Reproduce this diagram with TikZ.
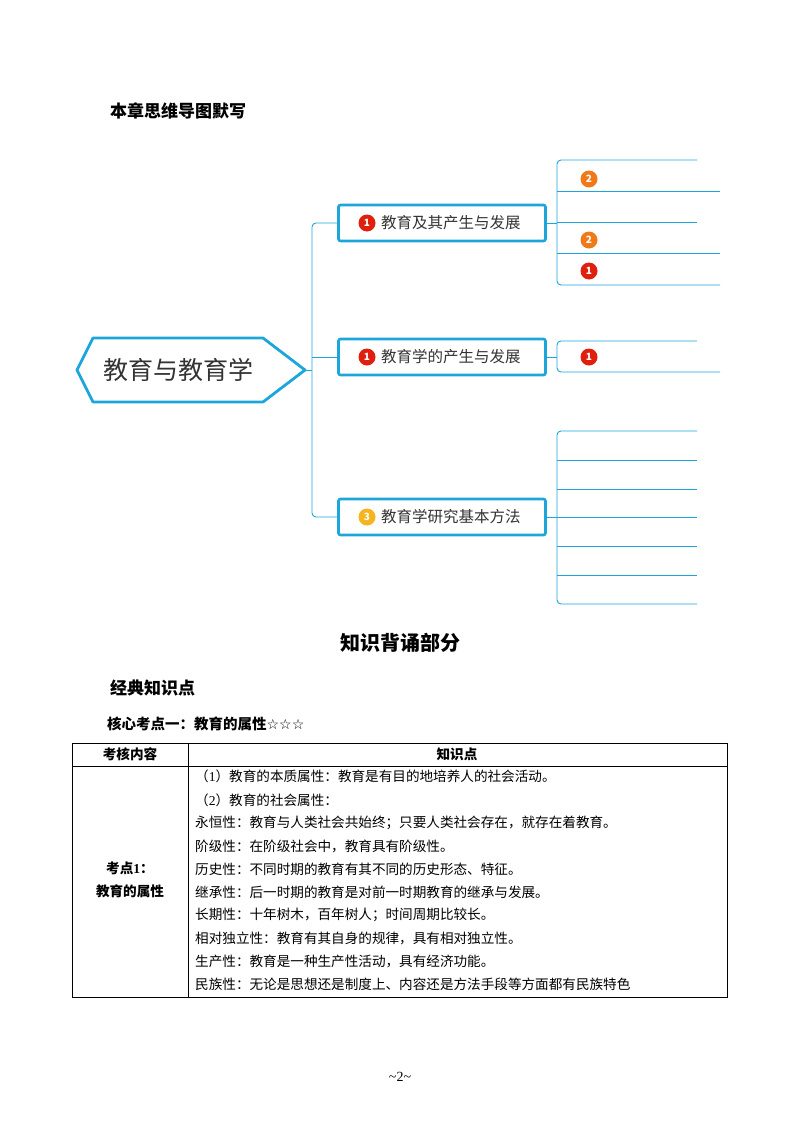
\documentclass[tikz,border=0pt]{standalone}
\usepackage{fontspec}
\setmainfont{Noto Sans CJK SC}
\newfontfamily\tms{Liberation Serif}
\newfontfamily\djv{DejaVu Sans}
\begin{document}
\begin{tikzpicture}[x=1pt,y=-1pt,
  mb/.style={draw=mblue,line width=2.6pt,rounded corners=2pt,minimum width=207pt,minimum height=36pt,fill=white},
  ln/.style={draw=mblue,line width=0.9pt,rounded corners=4pt},
  badge/.style={circle,inner sep=0pt,minimum size=17pt,text=white,font=\bfseries\fontsize{10}{10}\selectfont},
  tx/.style={anchor=west,font=\fontsize{13.6}{14}\selectfont,inner sep=0pt},
  hd/.style={anchor=west,font=\bfseries,inner sep=0pt}]
\definecolor{mblue}{HTML}{1CA6DC}
\definecolor{cr}{HTML}{E0200E}
\definecolor{co}{HTML}{F07A1A}
\definecolor{cy}{HTML}{F5B51E}
\fill[white] (0,0) rectangle (800,1132);
\useasboundingbox (0,0) rectangle (800,1132);
\node[hd,font=\bfseries\fontsize{17}{17}\selectfont] (t1) at (110,111) {本章思维导图默写};
% central
\draw[draw=mblue,line width=2.8pt,fill=white,line join=round] (77,370) -- (93,338) -- (263,338) -- (305,370) -- (263,402) -- (93,402) -- cycle;
\node[font=\fontsize{25}{25}\selectfont,text=black!80] (c) at (178,370) {教育与教育学};
\coordinate (cr0) at (305,370);
% trunk
\draw[ln] (cr0) -- (312,370);
\draw[ln] (338,223) -- (312,223) -- (312,517) -- (338,517);
\draw[ln] (312,357) -- (338,357);
% boxes
\node[mb] (b1) at (442,223) {};
\node[mb] (b2) at (442,357) {};
\node[mb] (b3) at (442,517) {};
\node[badge,fill=cr] (k1) at (367,223) {1};
\node[badge,fill=cr] (k2) at (367,357) {1};
\node[badge,fill=cy] (k3) at (367,517) {3};
\node[tx,font=\fontsize{15.5}{16}\selectfont,text=black!80] at (381,223) {教育及其产生与发展};
\node[tx,font=\fontsize{15.5}{16}\selectfont,text=black!80] at (381,357) {教育学的产生与发展};
\node[tx,font=\fontsize{15.5}{16}\selectfont,text=black!80] at (381,517) {教育学研究基本方法};
% right children b1
\draw[ln] (b1.east) -- (557,223);
\draw[ln] (697,160) -- (557,160) -- (557,285) -- (720,285);
\draw[ln] (557,191) -- (720,191);
\draw[ln] (557,222) -- (697,222);
\draw[ln] (557,253) -- (720,253);
\node[badge,fill=co] at (589,179) {2};
\node[badge,fill=co] at (589,240) {2};
\node[badge,fill=cr] at (589,271) {1};
% b2
\draw[ln] (b2.east) -- (557,357);
\draw[ln] (697,341) -- (557,341) -- (557,372) -- (720,372);
\node[badge,fill=cr] at (589,357) {1};
% b3
\draw[ln] (b3.east) -- (557,517);
\draw[ln] (697,431) -- (557,431) -- (557,604) -- (697,604);
\foreach \y in {460,489,517,546,575} \draw[ln] (557,\y) -- (697,\y);
% headings
\node[font=\bfseries\fontsize{20}{20}\selectfont] (t2) at (400,643) {知识背诵部分};
\node[hd,font=\bfseries\fontsize{17}{17}\selectfont] (t3) at (110,688) {经典知识点};
\node[hd,font=\bfseries\fontsize{14.5}{15}\selectfont] (t4) at (107,724) {核心考点一：教育的属性{\mdseries\djv\fontsize{14}{14}\selectfont ☆☆☆}};
% table
\draw[line width=0.6pt] (72,743) rectangle (727,997);
\draw[line width=0.6pt] (72,766) -- (727,766);
\draw[line width=0.6pt] (188,743) -- (188,997);
\node[font=\bfseries\fontsize{13.6}{14}\selectfont] (h1) at (130,754) {考核内容};
\node[font=\bfseries\fontsize{13.6}{14}\selectfont] (h2) at (457,754) {知识点};
\node[font=\bfseries\fontsize{13.6}{14}\selectfont] (l1) at (130,868) {考点{\tms 1}：};
\node[font=\bfseries\fontsize{13.6}{14}\selectfont] (l2) at (130,891) {教育的属性};
\node[tx] at (195,776) {（{\tms 1}）教育的本质属性：教育是有目的地培养人的社会活动。};
\node[tx] at (195,800) {（{\tms 2}）教育的社会属性：};
\node[tx] at (195,823) {永恒性：教育与人类社会共始终；只要人类社会存在，就存在着教育。};
\node[tx] at (195,846) {阶级性：在阶级社会中，教育具有阶级性。};
\node[tx] at (195,869) {历史性：不同时期的教育有其不同的历史形态、特征。};
\node[tx] at (195,892) {继承性：后一时期的教育是对前一时期教育的继承与发展。};
\node[tx] at (195,915) {长期性：十年树木，百年树人；时间周期比较长。};
\node[tx] at (195,938) {相对独立性：教育有其自身的规律，具有相对独立性。};
\node[tx] at (195,961) {生产性：教育是一种生产性活动，具有经济功能。};
\node[tx] at (195,984) {民族性：无论是思想还是制度上、内容还是方法手段等方面都有民族特色};
\node[font=\tms\fontsize{14}{14}\selectfont] (pg) at (400,1077) {\textasciitilde2\textasciitilde};
\end{tikzpicture}
\end{document}
